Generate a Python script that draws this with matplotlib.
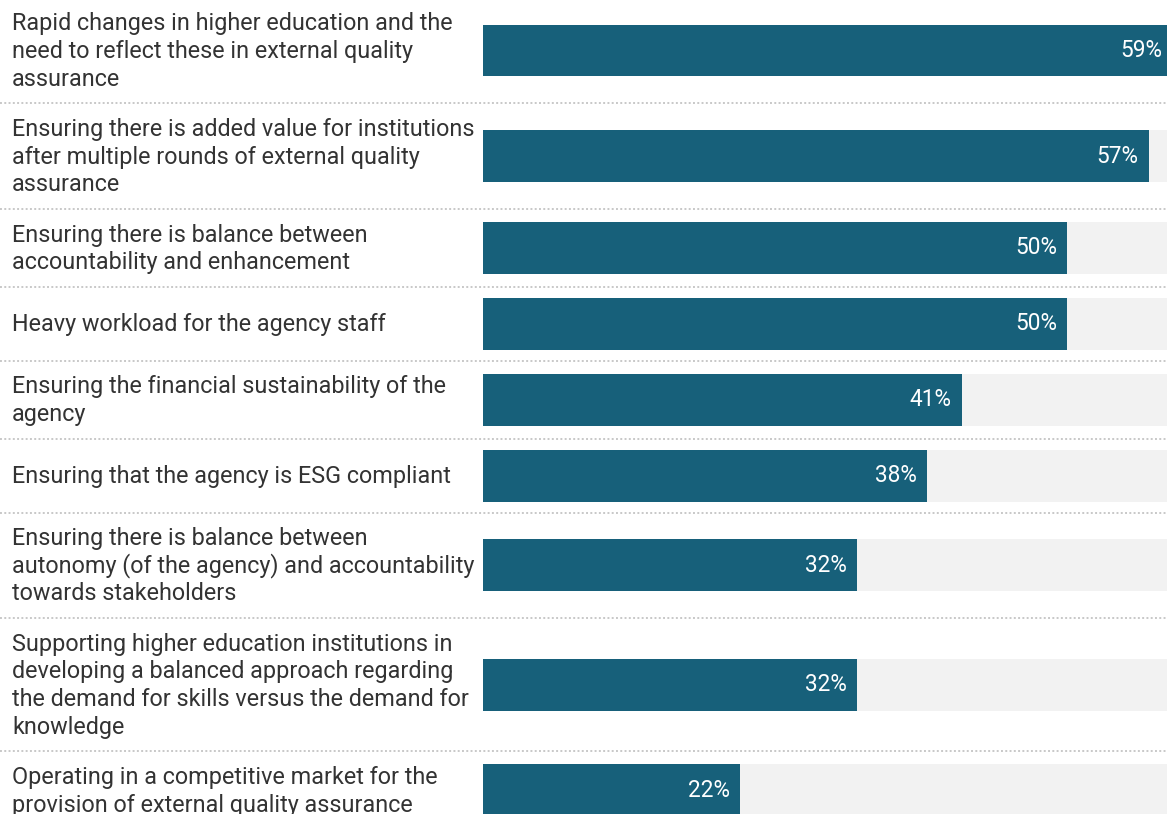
import matplotlib.pyplot as plt

plt.rcParams['font.family'] = ['Roboto', 'DejaVu Sans']

# Each challenge is stored as its wrapped lines
labels = [
    ["Rapid changes in higher education and the",
     "need to reflect these in external quality",
     "assurance"],
    ["Ensuring there is added value for institutions",
     "after multiple rounds of external quality",
     "assurance"],
    ["Ensuring there is balance between",
     "accountability and enhancement"],
    ["Heavy workload for the agency staff"],
    ["Ensuring the financial sustainability of the",
     "agency"],
    ["Ensuring that the agency is ESG compliant"],
    ["Ensuring there is balance between",
     "autonomy (of the agency) and accountability",
     "towards stakeholders"],
    ["Supporting higher education institutions in",
     "developing a balanced approach regarding",
     "the demand for skills versus the demand for",
     "knowledge"],
    ["Operating in a competitive market for the",
     "provision of external quality assurance"],
]
values = [59, 57, 50, 50, 41, 38, 32, 32, 22]

BAR_COLOR = "#17607a"
BG_COLOR = "#f2f2f2"
TEXT_COLOR = "#333333"

W, H = 1167, 814
LINE_H = 27.6
BAR_H = 52
PAD = 21.8

fig = plt.figure(figsize=(W / 100, H / 100), dpi=100)

# overlay axes in pixel units for labels and separators
ax_txt = fig.add_axes([0, 0, 1, 1])
ax_txt.set_xlim(0, W)
ax_txt.set_ylim(H, 0)
ax_txt.axis("off")

# bar axes: x in percent, y shares the pixel layout
x0 = 483
px_per_pct = 11.68
ax = fig.add_axes([x0 / W, 0, 1 - x0 / W, 1])
ax.set_xlim(0, (W - x0) / px_per_pct)
ax.set_ylim(H, 0)
ax.axis("off")

vmax = max(values)
top = -2.3
for lines, v in zip(labels, values):
    n = len(lines)
    row_h = max(BAR_H, LINE_H * n + 1) + PAD
    cy = top + row_h / 2

    ax.barh(cy, vmax + 5, height=BAR_H, color=BG_COLOR, left=0)
    ax.barh(cy, v, height=BAR_H, color=BAR_COLOR)
    ax.annotate(f"{v}%", xy=(v, cy), xytext=(-10, 0), textcoords="offset pixels",
                ha="right", va="center", color="white", fontsize=16.3,
                annotation_clip=False)

    for i, line in enumerate(lines):
        y = cy + (i - (n - 1) / 2) * LINE_H
        ax_txt.text(12, y + 7.5, line, ha="left", va="baseline",
                    fontsize=16.8, color=TEXT_COLOR)

    top += row_h
    ax_txt.plot([0, W], [top, top], color="#c8c8c8", lw=1.4,
                linestyle=(0, (1, 1.2)))

fig.savefig("out.png", dpi=100)
